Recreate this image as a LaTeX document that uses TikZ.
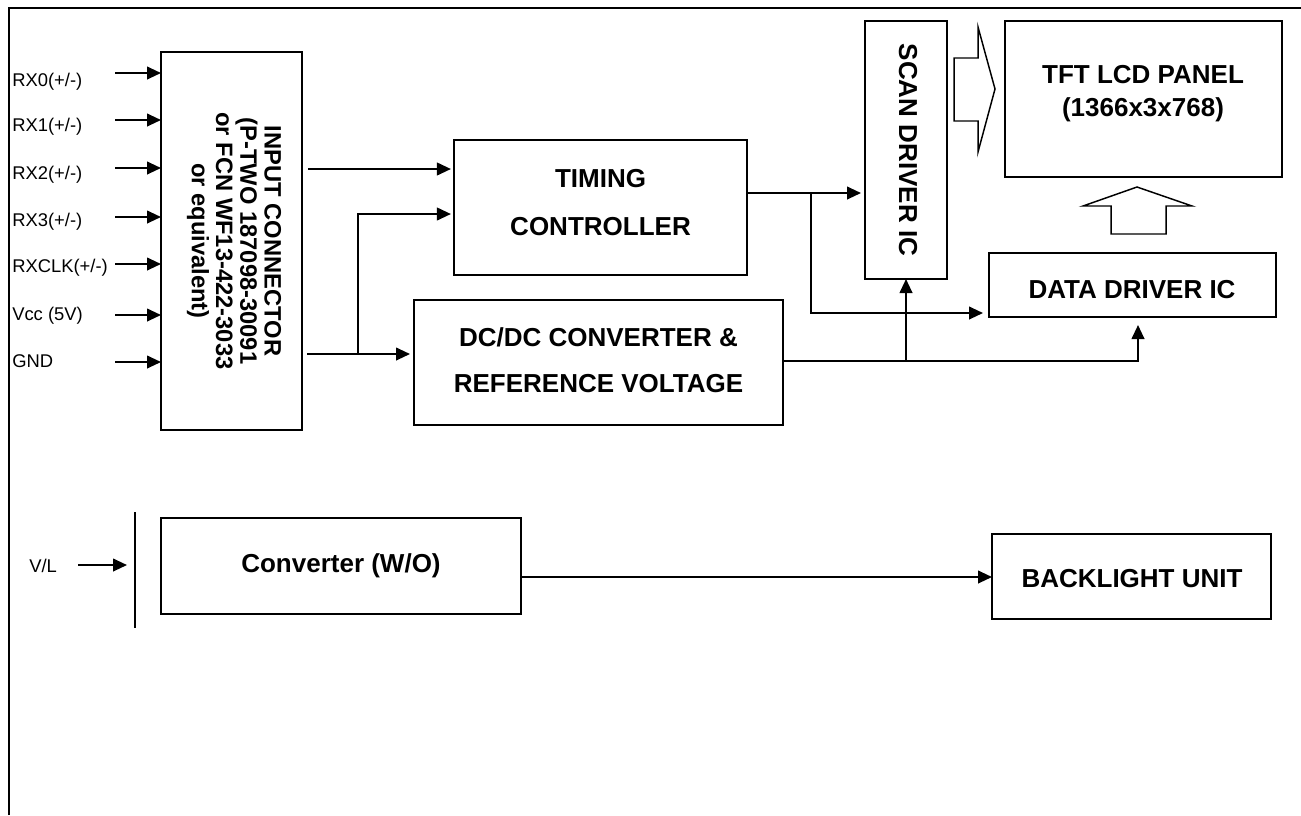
\documentclass[tikz,border=0pt]{standalone}
\usepackage{fontspec}
\setmainfont{Liberation Sans}
\usetikzlibrary{arrows.meta,fit}
\begin{document}
\begin{tikzpicture}[x=0.75pt,y=-0.75pt,
  box/.style={draw,line width=1.8pt,inner sep=0pt,outer sep=0pt},
  thinbox/.style={draw,line width=1.4pt,inner sep=0pt,outer sep=0pt},
  wire/.style={line width=1.5pt},
  arr/.style={wire,-{Triangle[length=10.5pt,width=9.5pt]}},
  hollow/.style={draw,line width=1.1pt,line join=miter},
  lbl/.style={font=\fontsize{13.8}{16}\selectfont,inner sep=0pt,anchor=west},
  big/.style={font=\fontsize{19.5}{24}\selectfont\bfseries,inner sep=0pt,align=center}
]
\useasboundingbox (0,0) rectangle (1301,815);
% frame
\draw[line width=1.5pt] (9,815) -- (9,8) -- (1301,8);

% boxes
\node[box,fit={(161,52)(302,430)}] (conn) {};
\node[box,fit={(454,140)(747,275)}] (tc) {};
\node[box,fit={(414,300)(783,425)}] (dc) {};
\node[box,fit={(865,21)(947,279)}] (scan) {};
\node[box,fit={(1005,21)(1282,177)}] (tft) {};
\node[box,fit={(989,253)(1276,317)}] (data) {};
\node[thinbox,fit={(161,518)(521,614)}] (conv) {};
\node[box,fit={(992,534)(1271,619)}] (bl) {};

% texts
\node[big,rotate=-90,font=\fontsize{17.8}{18.2}\selectfont\bfseries] (connt) at (234,241)
  {INPUT CONNECTOR\\(P-TWO 187098-30091\\or FCN WF13-422-3033\\or equivalent)};
\node[big,font=\fontsize{19.5}{36}\selectfont\bfseries] (tct) at (600.5,203) {TIMING\\CONTROLLER};
\node[big,font=\fontsize{19.5}{34.5}\selectfont\bfseries] (dct) at (598.5,360) {DC/DC CONVERTER \&\\REFERENCE VOLTAGE};
\node[big,rotate=-90] (scant) at (908,150) {SCAN DRIVER IC};
\node[big,font=\fontsize{19.5}{24.75}\selectfont\bfseries] (tftt) at (1143,93.5) {TFT LCD PANEL\\(1366x3x768)};
\node[big] (datat) at (1132,290) {DATA DRIVER IC};
\node[big] (convt) at (341,566) {Converter (W/O)};
\node[big] (blt) at (1132,579) {BACKLIGHT UNIT};

% input arrows and labels
\foreach \i/\y in {0/73,1/120,2/168,3/217,4/264,5/315,6/362}{
  \coordinate (in\i) at (115,\y);
  \draw[arr] (in\i) -- (in\i -| conn.west);
}
\node[lbl] (l0) at (12,82) {RX0(+/-)};
\node[lbl] (l1) at (12,127) {RX1(+/-)};
\node[lbl] (l2) at (12,175) {RX2(+/-)};
\node[lbl] (l3) at (12,222) {RX3(+/-)};
\node[lbl] (l4) at (12,268) {RXCLK(+/-)};
\node[lbl] (l5) at (12,316) {Vcc (5V)};
\node[lbl] (l6) at (12,361) {GND};

% connector to timing controller / dc-dc
\coordinate (o1) at (308,169);
\draw[arr,shorten >=2.3pt] (o1) -- (o1 -| tc.west);
\coordinate (o2) at (307,354);
\draw[arr,shorten >=3pt] (o2) -- (o2 -| dc.west);
\coordinate (j1) at (358,354);
\coordinate (t2) at (358,214);
\draw[arr,shorten >=2.3pt] (j1) -- (t2) -- (t2 -| tc.west);

% timing controller outputs
\coordinate (j2) at (811,193);
\coordinate (k2) at (811,313);
\draw[arr,shorten >=3pt] (j2 -| tc.east) -- (j2 -| scan.west);
\draw[arr,shorten >=4.5pt] (j2) -- (k2) -- (k2 -| data.west);

% dc-dc outputs
\coordinate (j3) at (906,361);
\coordinate (dx) at (1138,361);
\draw[arr,shorten >=6pt] (j3 -| dc.east) -- (dx) -- (dx |- data.south);
\draw[arr] (j3) -- (scan.south);

% hollow arrows
\draw[hollow] (954,58) -- (978,58) -- (978,27) -- (995,89) -- (978,152) -- (978,121) -- (954,121) -- cycle;
\draw[hollow] (1111,234) -- (1111,206) -- (1083,206) -- (1137,187) -- (1192,206) -- (1166,206) -- (1166,234) -- cycle;

% converter section
\coordinate (bart) at (135,512);
\coordinate (barb) at (135,628);
\draw[wire] (bart) -- (barb);
\coordinate (vl) at (78,565);
\draw[arr,shorten >=6pt] (vl) -- (vl -| bart);
\node[lbl] (vlt) at (29,566) {V/L};
\coordinate (c3) at (0,577);
\draw[arr] (c3 -| conv.east) -- (c3 -| bl.west);
\end{tikzpicture}
\end{document}
